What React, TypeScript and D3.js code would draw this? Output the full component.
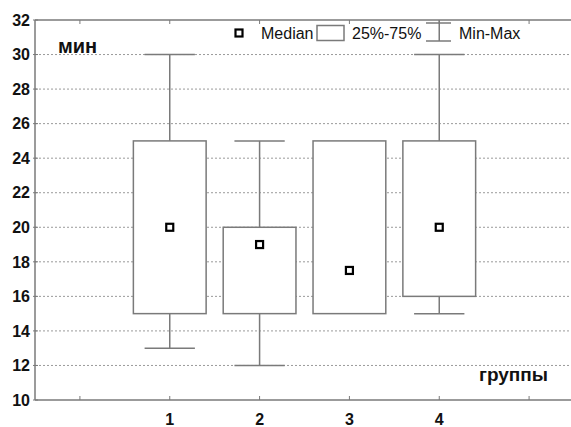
import React, { useEffect, useRef } from 'react';
import * as d3 from 'd3';

const groups = [1, 2, 3, 4];
const minVals = [13, 12, 15, 15];
const q1Vals = [15, 15, 15, 16];
const medianVals = [20, 19, 17.5, 20];
const q3Vals = [25, 20, 25, 25];
const maxVals = [30, 25, 25, 30];
const yTicks = [10, 12, 14, 16, 18, 20, 22, 24, 26, 28, 30, 32];
const xTickPositions = [0, 1, 2, 3, 4, 5];

const W = 571;
const H = 427;
const FONT = 'Arial, "Liberation Sans", sans-serif';
const GRAY = '#7a7a7a';

const App = () => {
  const svgRef = useRef<SVGSVGElement>(null);

  useEffect(() => {
    const svg = d3.select(svgRef.current);
    svg.selectAll('*').remove();

    const left = 35, top = 20, bottom = 400, right = 574;

    const x = d3.scaleLinear().domain([-0.5, 5.5]).range([left, right]);
    const y = d3.scaleLinear().domain([10, 32]).range([bottom, top]);
    const step = x(1) - x(0);
    const boxHalf = step * 0.405;
    const capHalf = step * 0.28;

    // dotted grid
    svg.append('g')
      .selectAll('line')
      .data(yTicks.filter(t => t > 10 && t < 32))
      .enter().append('line')
      .attr('x1', left).attr('x2', W)
      .attr('y1', d => y(d)).attr('y2', d => y(d))
      .attr('stroke', '#9a9a9a')
      .attr('stroke-width', 1)
      .attr('stroke-dasharray', '2,2');

    // frame lines
    svg.append('line').attr('x1', left).attr('x2', W).attr('y1', top).attr('y2', top)
      .attr('stroke', GRAY).attr('stroke-width', 1.5);
    svg.append('line').attr('x1', left).attr('x2', W).attr('y1', bottom).attr('y2', bottom)
      .attr('stroke', GRAY).attr('stroke-width', 1.5);
    svg.append('line').attr('x1', left).attr('x2', left).attr('y1', top).attr('y2', bottom)
      .attr('stroke', GRAY).attr('stroke-width', 1.5);

    // x ticks (inside, top and bottom)
    const xt = svg.append('g');
    xTickPositions.forEach(p => {
      xt.append('line').attr('x1', x(p)).attr('x2', x(p)).attr('y1', bottom).attr('y2', bottom - 4)
        .attr('stroke', GRAY).attr('stroke-width', 1);
      xt.append('line').attr('x1', x(p)).attr('x2', x(p)).attr('y1', top).attr('y2', top + 4)
        .attr('stroke', GRAY).attr('stroke-width', 1);
    });

    // y ticks + labels
    const yt = svg.append('g');
    yTicks.forEach(t => {
      yt.append('line').attr('x1', left - 2).attr('x2', left + 3).attr('y1', y(t)).attr('y2', y(t))
        .attr('stroke', GRAY).attr('stroke-width', 1);
      yt.append('text')
        .attr('x', 30).attr('y', y(t)).attr('dy', '0.36em')
        .attr('text-anchor', 'end')
        .style('font', `bold 16px ${FONT}`)
        .attr('fill', '#111')
        .text(t);
    });

    // x labels
    svg.append('g').selectAll('text')
      .data(groups)
      .enter().append('text')
      .attr('x', d => x(d)).attr('y', 425)
      .attr('text-anchor', 'middle')
      .style('font', `bold 16px ${FONT}`)
      .attr('fill', '#111')
      .text(d => d);

    // boxes
    const bx = svg.append('g');
    groups.forEach((g, i) => {
      const cx = x(g);
      if (maxVals[i] > q3Vals[i]) {
        bx.append('line').attr('x1', cx).attr('x2', cx).attr('y1', y(q3Vals[i])).attr('y2', y(maxVals[i]))
          .attr('stroke', GRAY).attr('stroke-width', 1.5);
        bx.append('line').attr('x1', cx - capHalf).attr('x2', cx + capHalf)
          .attr('y1', y(maxVals[i])).attr('y2', y(maxVals[i]))
          .attr('stroke', GRAY).attr('stroke-width', 1.5);
      }
      if (minVals[i] < q1Vals[i]) {
        bx.append('line').attr('x1', cx).attr('x2', cx).attr('y1', y(q1Vals[i])).attr('y2', y(minVals[i]))
          .attr('stroke', GRAY).attr('stroke-width', 1.5);
        bx.append('line').attr('x1', cx - capHalf).attr('x2', cx + capHalf)
          .attr('y1', y(minVals[i])).attr('y2', y(minVals[i]))
          .attr('stroke', GRAY).attr('stroke-width', 1.5);
      }
      bx.append('rect')
        .attr('x', cx - boxHalf).attr('y', y(q3Vals[i]))
        .attr('width', boxHalf * 2).attr('height', y(q1Vals[i]) - y(q3Vals[i]))
        .attr('fill', 'white').attr('stroke', GRAY).attr('stroke-width', 1.5);
      bx.append('rect')
        .attr('x', cx - 3.5).attr('y', y(medianVals[i]) - 3.5)
        .attr('width', 7).attr('height', 7)
        .attr('fill', 'white').attr('stroke', '#000').attr('stroke-width', 2.2);
    });

    // legend
    const lg = svg.append('g');
    lg.append('rect').attr('x', 235.5).attr('y', 29.5).attr('width', 7).attr('height', 7)
      .attr('fill', 'white').attr('stroke', '#000').attr('stroke-width', 2.2);
    lg.append('text').attr('x', 261).attr('y', 39).style('font', `16px ${FONT}`).attr('fill', '#111').text('Median');
    lg.append('rect').attr('x', 317).attr('y', 25.5).attr('width', 27).attr('height', 15)
      .attr('fill', 'white').attr('stroke', GRAY).attr('stroke-width', 1.5);
    lg.append('text').attr('x', 352).attr('y', 39).style('font', `16px ${FONT}`).attr('fill', '#111').text('25%-75%');
    lg.append('line').attr('x1', x(4)).attr('x2', x(4)).attr('y1', top).attr('y2', 41)
      .attr('stroke', GRAY).attr('stroke-width', 1.5);
    lg.append('line').attr('x1', 426).attr('x2', 451).attr('y1', 23).attr('y2', 23)
      .attr('stroke', GRAY).attr('stroke-width', 1.5);
    lg.append('line').attr('x1', 426).attr('x2', 451).attr('y1', 41).attr('y2', 41)
      .attr('stroke', GRAY).attr('stroke-width', 1.5);
    lg.append('text').attr('x', 459).attr('y', 39).style('font', `16px ${FONT}`).attr('fill', '#111').text('Min-Max');

    // axis titles
    svg.append('text').attr('x', 58).attr('y', 52.5)
      .style('font', `bold 20px ${FONT}`).attr('fill', '#111').text('мин');
    svg.append('text').attr('x', 479).attr('y', 381)
      .style('font', `bold 19px ${FONT}`).attr('fill', '#111').text('группы');
  }, []);

  return (
    <svg
      ref={svgRef}
      width={W}
      height={H}
      style={{ position: 'absolute', left: 0, top: 0, background: 'white' }}
    />
  );
};

export default App;
